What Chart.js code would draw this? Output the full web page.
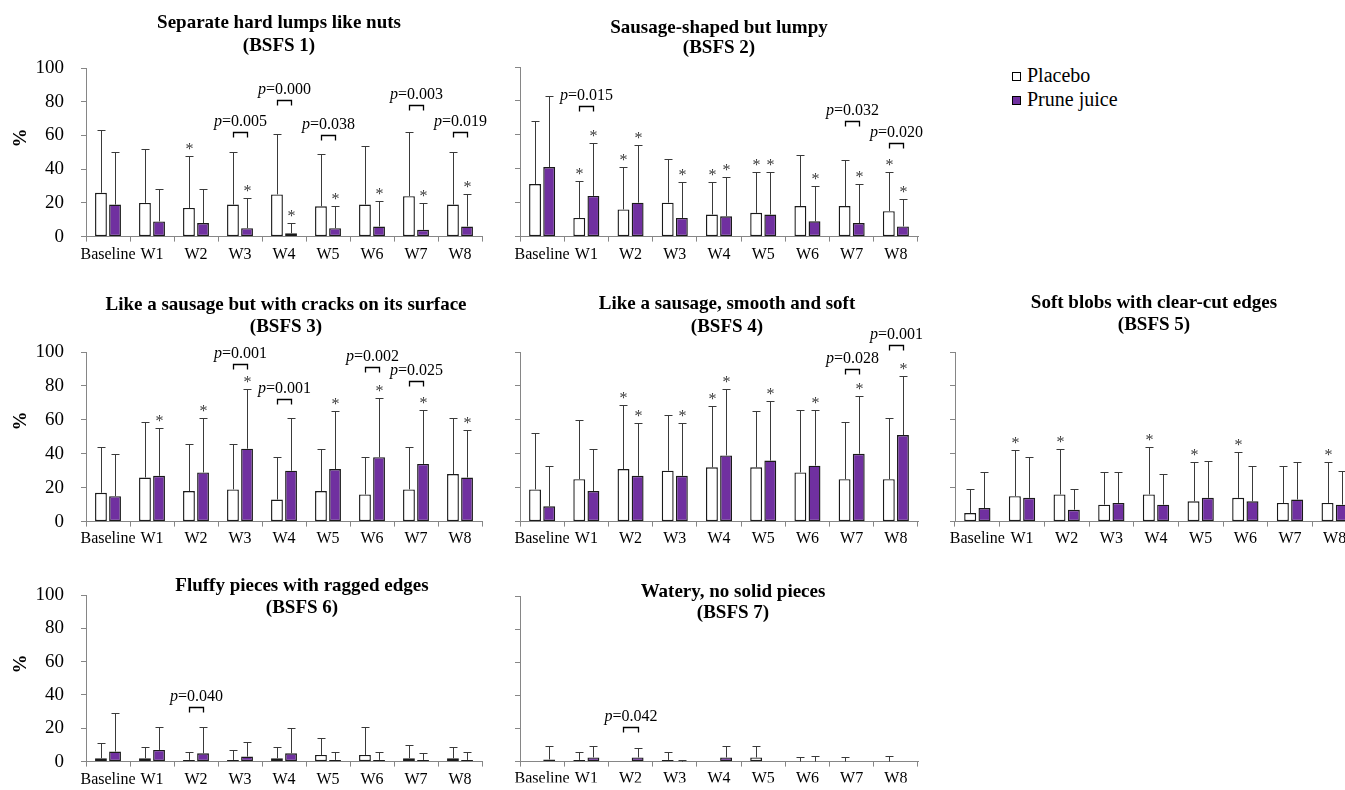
<!DOCTYPE html>
<html><head><meta charset="utf-8">
<script src="https://cdn.jsdelivr.net/npm/chart.js@4.4.1/dist/chart.umd.min.js"></script>
<style>
html,body{margin:0;padding:0;width:1345px;height:790px;overflow:hidden;background:#fff;}
body{position:relative;font-family:"Liberation Serif","Times New Roman",serif;color:#000;}
canvas{position:absolute;}
.tl{position:absolute;font-weight:bold;font-size:19px;line-height:22px;height:22px;white-space:nowrap;transform:translateX(-50%);}
.ylab{position:absolute;font-weight:bold;font-size:19px;line-height:20px;transform:translate(-50%,-50%) rotate(-90deg);}
.legend{position:absolute;left:1012px;top:63px;font-size:20px;line-height:24px;}
.legend div{white-space:nowrap;}
.legend .sw{display:inline-block;width:7px;height:7px;border:1.5px solid #000;margin-right:6px;vertical-align:1px;}
</style></head><body>
<div class="legend">
  <div><span class="sw" style="background:#fff"></span>Placebo</div>
  <div><span class="sw" style="background:#7030a0"></span>Prune juice</div>
</div>
<script>
const categories = ['Baseline','W1','W2','W3','W4','W5','W6','W7','W8'];
const yTickValues = [0,20,40,60,80,100];
const seriesNames = ['Placebo','Prune juice'];

// BSFS 1
const bsfs1Placebo   = [26,20,17,19,25,18,19,24,19];
const bsfs1PlaceboSD = [37,32,31,31,36,31,35,38,31];
const bsfs1Prune     = [19,9,8,5,2,5,6,4,6];
const bsfs1PruneSD   = [31,19,20,18,6,13,15,16,19];
const bsfs1StarPlacebo = [2];
const bsfs1StarPrune   = [3,4,5,6,7,8];
const bsfs1PWeek  = [3,4,5,7,8];
const bsfs1PValue = ['0.005','0.000','0.038','0.003','0.019'];
const bsfs1PLevel = [62,81,60,78,62];

// BSFS 2
const bsfs2Placebo   = [31,11,16,20,13,14,18,18,15];
const bsfs2PlaceboSD = [37,22,25,26,19,24,30,27,23];
const bsfs2Prune     = [41,24,20,11,12,13,9,8,6];
const bsfs2PruneSD   = [42,31,34,21,23,25,21,23,16];
const bsfs2StarPlacebo = [1,2,4,5,8];
const bsfs2StarPrune   = [1,2,3,4,5,6,7,8];
const bsfs2PWeek  = [1,7,8];
const bsfs2PValue = ['0.015','0.032','0.020'];
const bsfs2PLevel = [77,68,55];

// BSFS 3
const bsfs3Placebo   = [17,26,18,19,13,18,16,19,28];
const bsfs3PlaceboSD = [27,33,28,27,25,25,22,25,33];
const bsfs3Prune     = [15,27,29,43,30,31,38,34,26];
const bsfs3PruneSD   = [25,28,32,35,31,34,35,32,28];
const bsfs3StarPlacebo = [];
const bsfs3StarPrune   = [1,2,3,5,6,7,8];
const bsfs3PWeek  = [3,4,6,7];
const bsfs3PValue = ['0.001','0.001','0.002','0.025'];
const bsfs3PLevel = [93,72,91,83];

// BSFS 4
const bsfs4Placebo   = [19,25,31,30,32,32,29,25,25];
const bsfs4PlaceboSD = [33,35,38,33,36,33,37,34,36];
const bsfs4Prune     = [9,18,27,27,39,36,33,40,51];
const bsfs4PruneSD   = [24,25,31,31,39,35,33,34,35];
const bsfs4StarPlacebo = [2,4];
const bsfs4StarPrune   = [2,3,4,5,6,7,8];
const bsfs4PWeek  = [7,8];
const bsfs4PValue = ['0.028','0.001'];
const bsfs4PLevel = [90,104];

// BSFS 5
const bsfs5Placebo   = [5,15,16,10,16,12,14,11,11];
const bsfs5PlaceboSD = [14,27,27,19,28,23,27,22,24];
const bsfs5Prune     = [8,14,7,11,10,14,12,13,10];
const bsfs5PruneSD   = [21,24,12,18,18,22,21,22,20];
const bsfs5StarPlacebo = [1,2,4,5,6,8];
const bsfs5StarPrune   = [];
const bsfs5PWeek  = [];
const bsfs5PValue = [];
const bsfs5PLevel = [];

// BSFS 6
const bsfs6Placebo   = [2,2,1,1,2,4,4,2,2];
const bsfs6PlaceboSD = [9,7,5,6,7,10,17,8,7];
const bsfs6Prune     = [6,7,5,3,5,1,1,1,1];
const bsfs6PruneSD   = [23,14,16,9,15,5,5,4,5];
const bsfs6StarPlacebo = [];
const bsfs6StarPrune   = [];
const bsfs6PWeek  = [2];
const bsfs6PValue = ['0.040'];
const bsfs6PLevel = [33];

// BSFS 7
const bsfs7Placebo   = [0,1,0,1,0,2.5,0,0,0];
const bsfs7PlaceboSD = [0,5,0,5,0,7,2.5,2.5,3.5];
const bsfs7Prune     = [1.3,2.5,2.5,0,2.5,0,0,0,0];
const bsfs7PruneSD   = [8,7,6,1,7,0,3.5,0,0];
const bsfs7StarPlacebo = [];
const bsfs7StarPrune   = [];
const bsfs7PWeek  = [2];
const bsfs7PValue = ['0.042'];
const bsfs7PLevel = [21];

const FONT = 'Liberation Serif';
const AXIS = '#868686';

const overlay = {
  id: 'overlay',
  afterDatasetsDraw(chart) {
    const o = chart.options.plugins.overlay;
    const ctx = chart.ctx, ys = chart.scales.y;
    ctx.save();
    const metas = [chart.getDatasetMeta(0), chart.getDatasetMeta(1)];
    const sds = [o.sdP, o.sdJ], stars = [o.starP, o.starJ];
    metas.forEach((meta, di) => {
      const vals = chart.data.datasets[di].data;
      meta.data.forEach((bar, i) => {
        const sd = sds[di][i];
        const x = Math.round(bar.x) + 0.5;
        const yb = ys.getPixelForValue(vals[i]);
        const yt = Math.round(ys.getPixelForValue(vals[i] + sd)) + 0.5;
        if (sd > 0) {
          ctx.strokeStyle = '#3a3a3a'; ctx.lineWidth = 1;
          ctx.beginPath(); ctx.moveTo(x, yb); ctx.lineTo(x, yt);
          ctx.moveTo(x - 4, yt); ctx.lineTo(x + 4, yt); ctx.stroke();
        }
        if (stars[di].includes(i)) {
          ctx.fillStyle = '#3a3a3a'; ctx.font = '16px "' + FONT + '"';
          ctx.textAlign = 'center'; ctx.textBaseline = 'alphabetic';
          ctx.fillText('*', x, yt - 3);
        }
      });
    });
    o.pWeek.forEach((w, k) => {
      const x1 = Math.round(metas[0].data[w].x) + 0.5;
      const x2 = Math.round(metas[1].data[w].x) + 0.5;
      const yl = Math.round(ys.getPixelForValue(o.pLevel[k])) + 0.5;
      ctx.strokeStyle = '#000'; ctx.lineWidth = 1.3;
      ctx.beginPath(); ctx.moveTo(x1, yl + 5); ctx.lineTo(x1, yl); ctx.lineTo(x2, yl); ctx.lineTo(x2, yl + 5); ctx.stroke();
      const t1 = 'p', t2 = '=' + o.pValue[k];
      ctx.font = 'italic 16px "' + FONT + '"'; const w1 = ctx.measureText(t1).width;
      ctx.font = '16px "' + FONT + '"'; const w2 = ctx.measureText(t2).width;
      const cx = (x1 + x2) / 2, sx = cx - (w1 + w2) / 2;
      ctx.fillStyle = '#000'; ctx.textAlign = 'left'; ctx.textBaseline = 'alphabetic';
      ctx.font = 'italic 16px "' + FONT + '"'; ctx.fillText(t1, sx, yl - 7);
      ctx.font = '16px "' + FONT + '"'; ctx.fillText(t2, sx + w1, yl - 7);
    });
    ctx.restore();
  }
};

function addTitle(cx, y1, y2, l1, l2) {
  [[y1, l1], [y2, l2]].forEach(([y, t]) => {
    const d = document.createElement('div'); d.className = 'tl';
    d.style.left = cx + 'px'; d.style.top = (y - 11) + 'px'; d.textContent = t;
    document.body.appendChild(d);
  });
}
function addYLabel(x, y) {
  const d = document.createElement('div'); d.className = 'ylab';
  d.style.left = x + 'px'; d.style.top = y + 'px'; d.textContent = '%';
  document.body.appendChild(d);
}

function panel(c) {
  const cv = document.createElement('canvas');
  cv.width = c.w; cv.height = c.h;
  cv.style.left = c.x + 'px'; cv.style.top = c.y + 'px';
  cv.style.width = c.w + 'px'; cv.style.height = c.h + 'px';
  document.body.appendChild(cv);
  const barStyle = {borderColor: '#1a1a1a', borderWidth: 1.4, borderSkipped: false,
                    categoryPercentage: 0.64, barPercentage: 0.84};
  new Chart(cv, {
    type: 'bar',
    data: {labels: categories, datasets: [
      Object.assign({label: seriesNames[0], data: c.p, backgroundColor: '#ffffff'}, barStyle),
      Object.assign({label: seriesNames[1], data: c.j, backgroundColor: '#7030a0'}, barStyle)
    ]},
    options: {
      responsive: false, animation: false, devicePixelRatio: 1, events: [],
      layout: {padding: {left: 0, top: c.pt - c.y, right: c.x + c.w - c.pr, bottom: 0}},
      plugins: {legend: {display: false}, tooltip: {enabled: false}, title: {display: false},
        overlay: {sdP: c.sdP, sdJ: c.sdJ, starP: c.starP, starJ: c.starJ,
                  pWeek: c.pWeek, pValue: c.pValue, pLevel: c.pLevel}},
      scales: {
        x: {
          grid: {display: true, drawOnChartArea: false, drawTicks: true, tickLength: 5, color: AXIS, offset: true},
          border: {display: true, color: AXIS, width: 1},
          ticks: {font: {family: FONT, size: 16}, color: '#000', padding: c.xpad, maxRotation: 0, minRotation: 0, autoSkip: false},
          afterFit(s) { s.height = c.y + c.h - c.pb; }
        },
        y: {
          min: 0, max: 100,
          afterBuildTicks(s) { s.ticks = yTickValues.map(v => ({value: v})); },
          ticks: {font: {family: FONT, size: 19}, color: '#000', padding: 17,
                  callback: (v) => c.yLabels ? String(v) : ''},
          grid: {display: true, drawOnChartArea: false, drawTicks: true, tickLength: 5, color: AXIS},
          border: {display: true, color: AXIS, width: 1},
          afterFit(s) { s.width = c.pl - c.x; }
        }
      }
    },
    plugins: [overlay]
  });
}

panel({x:0, y:0, w:495, h:265, pl:86, pr:482, pt:68, pb:238, xpad:4, yLabels:true,
  p:bsfs1Placebo, sdP:bsfs1PlaceboSD, j:bsfs1Prune, sdJ:bsfs1PruneSD, starP:bsfs1StarPlacebo, starJ:bsfs1StarPrune,
  pWeek:bsfs1PWeek, pValue:bsfs1PValue, pLevel:bsfs1PLevel});
panel({x:495, y:0, w:440, h:265, pl:520, pr:918, pt:67, pb:238, xpad:4, yLabels:false,
  p:bsfs2Placebo, sdP:bsfs2PlaceboSD, j:bsfs2Prune, sdJ:bsfs2PruneSD, starP:bsfs2StarPlacebo, starJ:bsfs2StarPrune,
  pWeek:bsfs2PWeek, pValue:bsfs2PValue, pLevel:bsfs2PLevel});
panel({x:0, y:285, w:495, h:265, pl:86, pr:482, pt:352, pb:522, xpad:3, yLabels:true,
  p:bsfs3Placebo, sdP:bsfs3PlaceboSD, j:bsfs3Prune, sdJ:bsfs3PruneSD, starP:bsfs3StarPlacebo, starJ:bsfs3StarPrune,
  pWeek:bsfs3PWeek, pValue:bsfs3PValue, pLevel:bsfs3PLevel});
panel({x:495, y:285, w:440, h:265, pl:520, pr:918, pt:352, pb:523, xpad:3, yLabels:false,
  p:bsfs4Placebo, sdP:bsfs4PlaceboSD, j:bsfs4Prune, sdJ:bsfs4PruneSD, starP:bsfs4StarPlacebo, starJ:bsfs4StarPrune,
  pWeek:bsfs4PWeek, pValue:bsfs4PValue, pLevel:bsfs4PLevel});
panel({x:935, y:285, w:440, h:265, pl:955, pr:1357, pt:352, pb:523, xpad:3, yLabels:false,
  p:bsfs5Placebo, sdP:bsfs5PlaceboSD, j:bsfs5Prune, sdJ:bsfs5PruneSD, starP:bsfs5StarPlacebo, starJ:bsfs5StarPrune,
  pWeek:bsfs5PWeek, pValue:bsfs5PValue, pLevel:bsfs5PLevel});
panel({x:0, y:560, w:495, h:230, pl:86, pr:482, pt:595, pb:767, xpad:4, yLabels:true,
  p:bsfs6Placebo, sdP:bsfs6PlaceboSD, j:bsfs6Prune, sdJ:bsfs6PruneSD, starP:bsfs6StarPlacebo, starJ:bsfs6StarPrune,
  pWeek:bsfs6PWeek, pValue:bsfs6PValue, pLevel:bsfs6PLevel});
panel({x:495, y:560, w:440, h:230, pl:520, pr:918, pt:596, pb:769, xpad:3, yLabels:false,
  p:bsfs7Placebo, sdP:bsfs7PlaceboSD, j:bsfs7Prune, sdJ:bsfs7PruneSD, starP:bsfs7StarPlacebo, starJ:bsfs7StarPrune,
  pWeek:bsfs7PWeek, pValue:bsfs7PValue, pLevel:bsfs7PLevel});

addTitle(279, 22, 45, 'Separate hard lumps like nuts', '(BSFS 1)');
addTitle(719, 27, 47, 'Sausage-shaped but lumpy', '(BSFS 2)');
addTitle(286, 304, 326, 'Like a sausage but with cracks on its surface', '(BSFS 3)');
addTitle(727, 303, 326, 'Like a sausage, smooth and soft', '(BSFS 4)');
addTitle(1154, 302, 324, 'Soft blobs with clear-cut edges', '(BSFS 5)');
addTitle(302, 585, 607, 'Fluffy pieces with ragged edges', '(BSFS 6)');
addTitle(733, 591, 612, 'Watery, no solid pieces', '(BSFS 7)');
addYLabel(20, 138);
addYLabel(20, 421);
addYLabel(20, 664);
</script>
</body></html>
